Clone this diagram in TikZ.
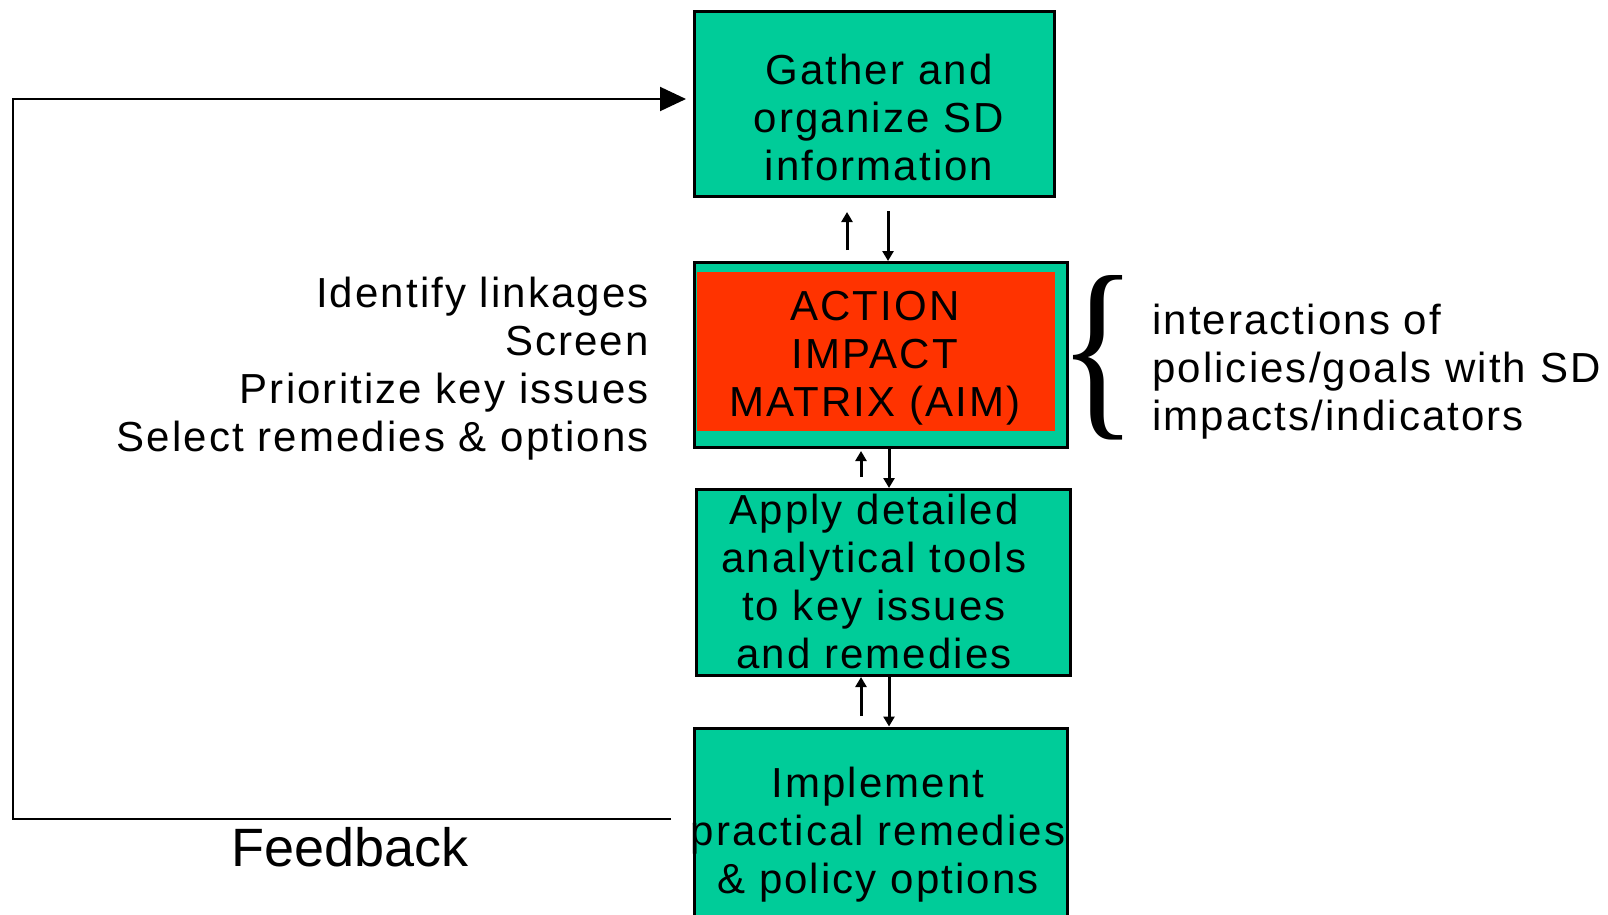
\documentclass[tikz,border=0pt]{standalone}
\usepackage{fontspec}
\setmainfont{Liberation Sans}
\newfontfamily\spaced[LetterSpace=5]{Liberation Sans}
\newfontfamily\bracefont{Liberation Serif}
\usetikzlibrary{arrows.meta}
\definecolor{aimgreen}{RGB}{0,204,153}
\definecolor{aimred}{RGB}{255,51,0}
\begin{document}
\begin{tikzpicture}[x=1pt,y=-1pt,
  box/.style={draw=black,line width=3pt,fill=aimgreen,inner sep=0pt},
  redbox/.style={fill=aimred,draw=none,inner sep=0pt},
  txt/.style={inner sep=0pt,font=\spaced\fontsize{42}{48}\selectfont},
  arr/.style={line width=3pt,-{Triangle[length=10pt,width=11pt]}},
  fb/.style={line width=2pt,-{Triangle[length=26pt,width=24pt]}}]
\useasboundingbox[fill=white] (0,0) rectangle (1608,914);
% boxes
\node[box,minimum width=360pt,minimum height=185pt] (top) at (874,104) {};
\node[box,minimum width=373pt,minimum height=185pt] (aim) at (880.5,355) {};
\node[redbox,minimum width=358pt,minimum height=159pt] (aimin) at (876,351.5) {};
\node[box,minimum width=374pt,minimum height=186pt] (apply) at (883,582.5) {};
\node[box,minimum width=373pt,minimum height=200pt] (impl) at (881,828) {};
% box texts
\node[txt,align=center] (toptxt) at (879,117) {Gather and\\organize SD\\information};
\node[txt,align=center] (aimtxt) at (875,358) {ACTION\\IMPACT\\MATRIX (AIM)};
\node[txt,align=center] (applytxt) at (874,581) {Apply detailed\\analytical tools\\to key issues\\and remedies};
\node[txt,align=center] (impltxt) at (878,835) {Implement\\practical remedies\\\& policy options};
% side texts
\node[txt,align=right,anchor=east] (left) at (649,369) {Identify linkages\\Screen\\Prioritize key issues\\Select remedies \& options};
\node[txt,align=left,anchor=west] (right) at (1152,372) {interactions of\\policies/goals with SD\\impacts/indicators};
\node[inner sep=0pt] (brace) at (1098,358) {\resizebox{79pt}{138pt}{\bracefont\{}};
% arrows between boxes
\coordinate (a1s) at (847,250); \coordinate (a1e) at (847,212);
\coordinate (b1s) at (888,211);
\draw[arr] (a1s) -- (a1e);
\draw[arr] (b1s) -- (b1s |- aim.north);
\coordinate (a2s) at (861,477); \coordinate (a2e) at (861,451);
\coordinate (b2s) at (889,449);
\draw[arr] (a2s) -- (a2e);
\draw[arr] (b2s) -- (b2s |- apply.north);
\coordinate (a3s) at (861,716); \coordinate (a3e) at (861,677);
\coordinate (b3s) at (889,677);
\draw[arr] (a3s) -- (a3e);
\draw[arr] (b3s) -- (b3s |- impl.north);
% feedback loop
\coordinate (fbstart) at (671,819);
\coordinate (fbcorner) at (13,99);
\coordinate (fbend) at (686,99);
\draw[fb] (fbstart) -| (fbcorner) -- (fbend);
\node[inner sep=0pt,font=\fontsize{54}{60}\selectfont] (fbtxt) at (350,847) {Feedback};
\end{tikzpicture}
\end{document}
